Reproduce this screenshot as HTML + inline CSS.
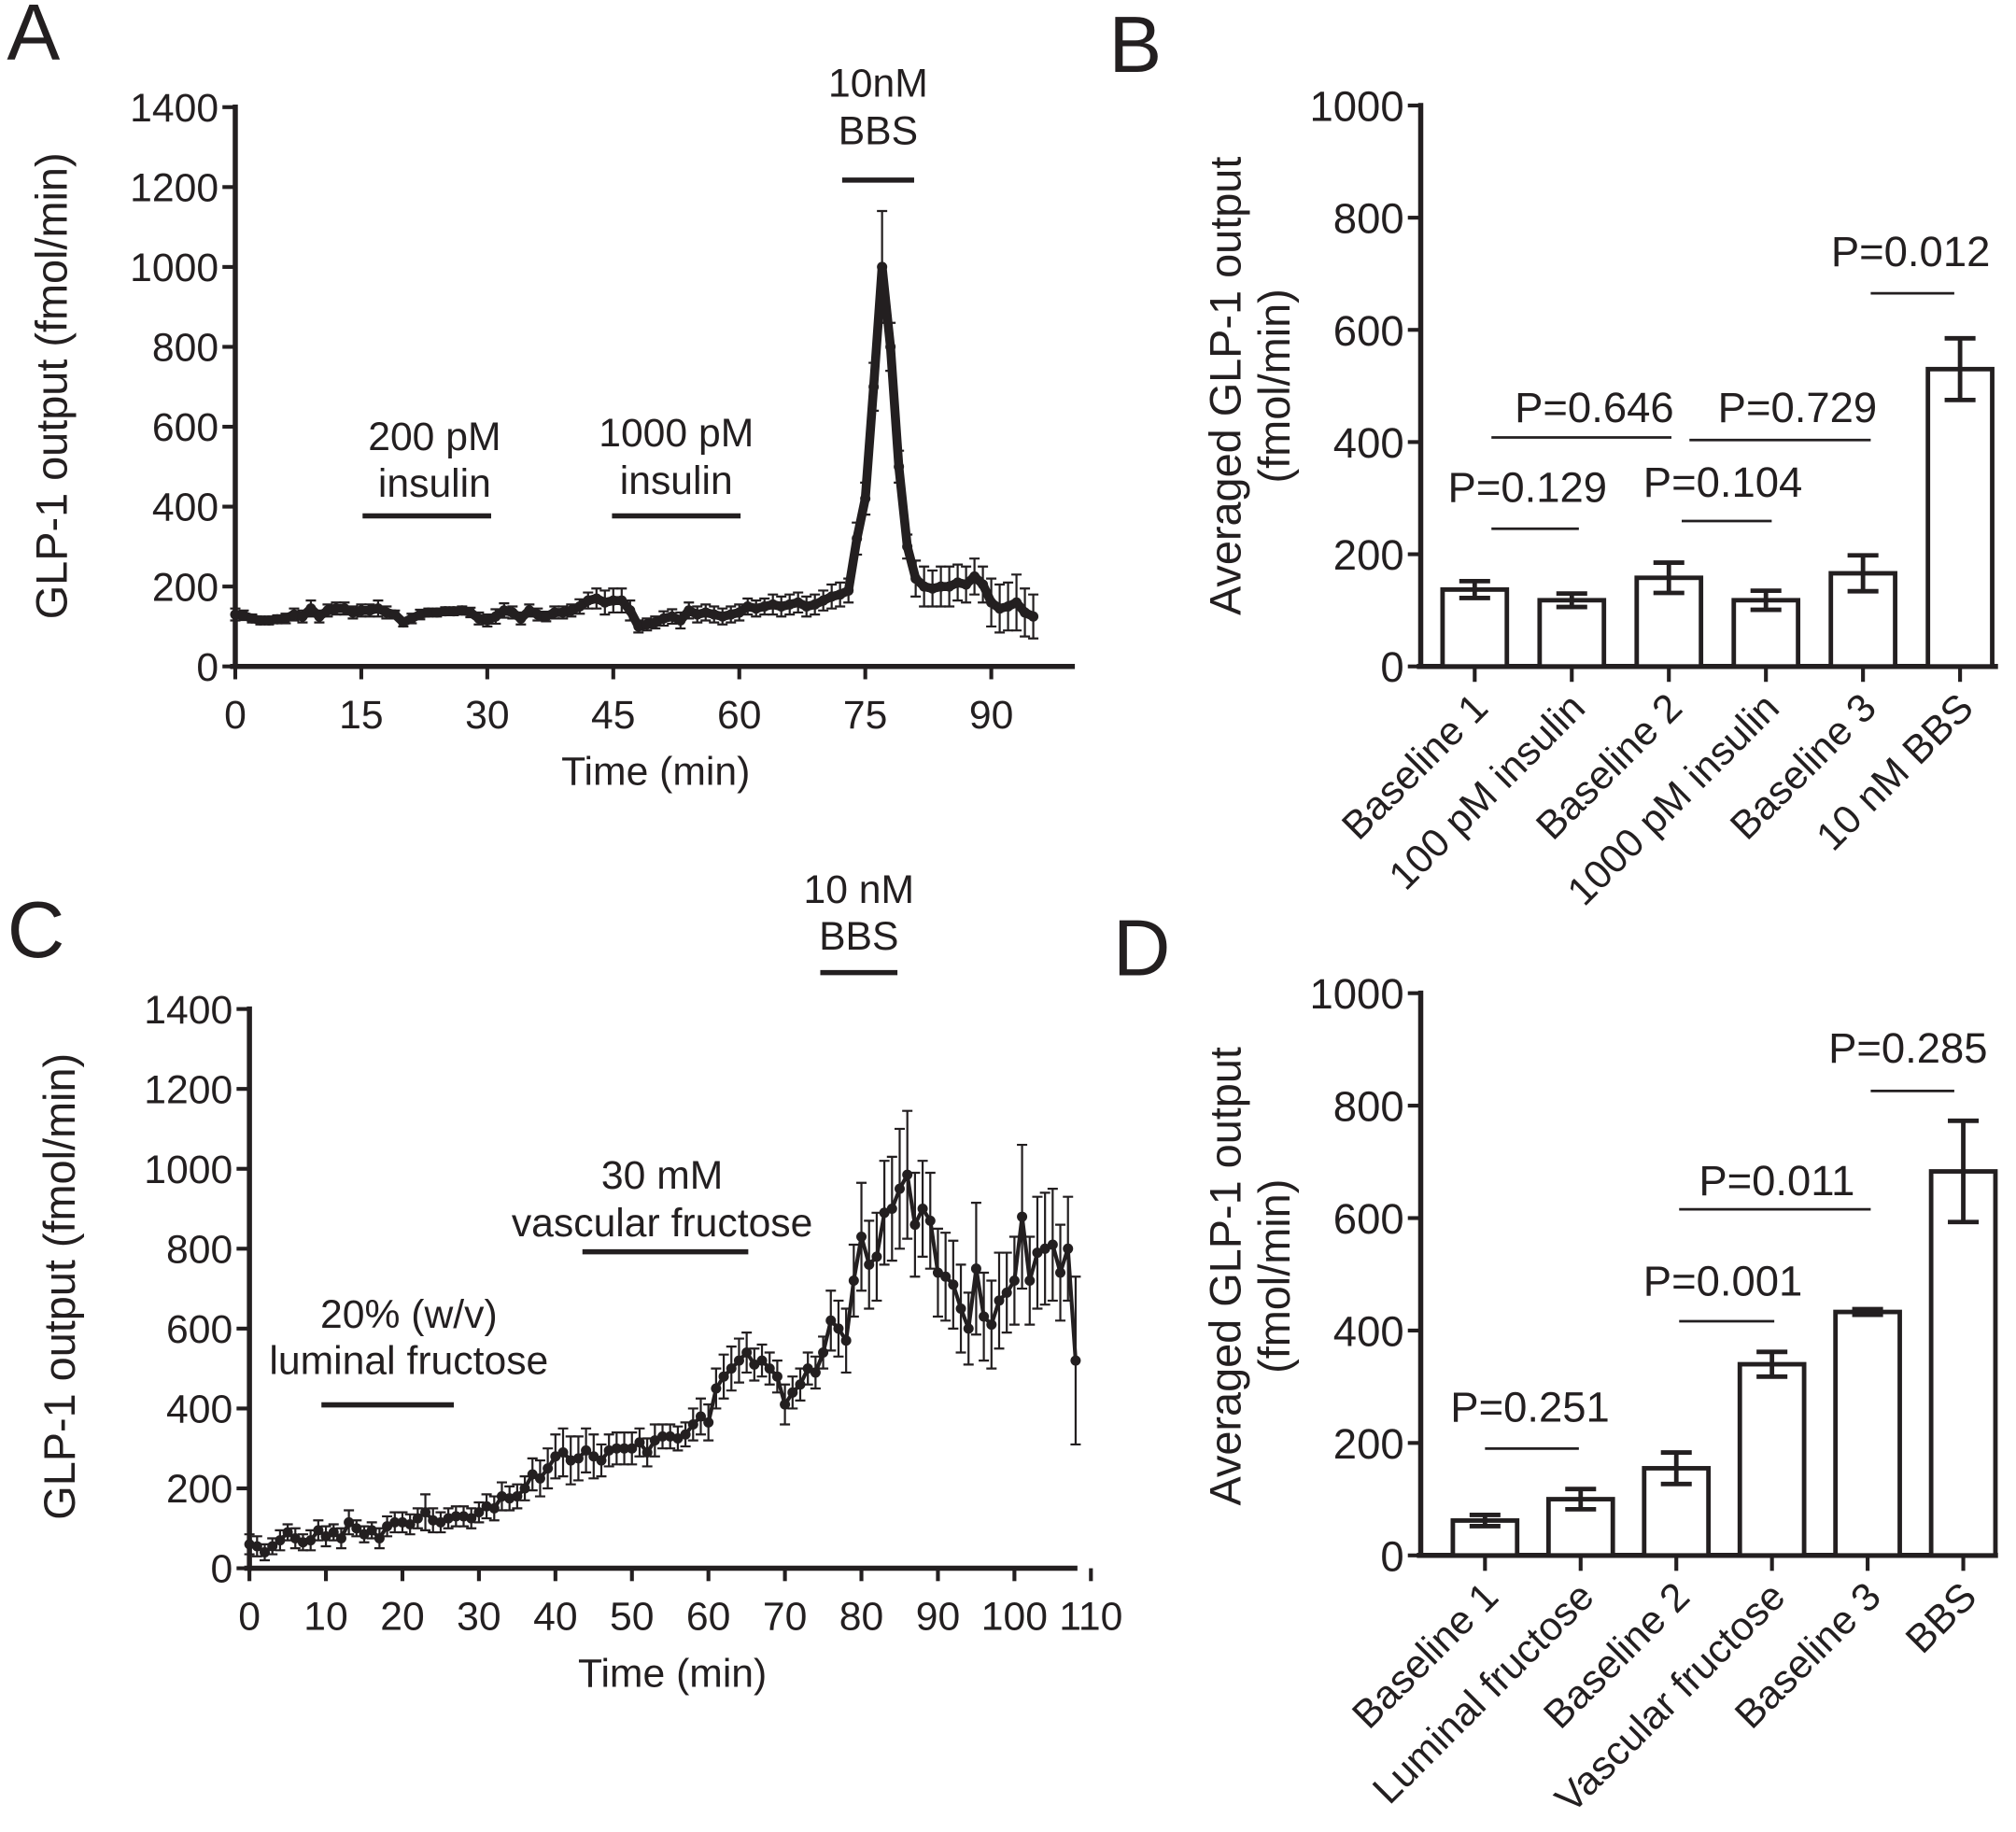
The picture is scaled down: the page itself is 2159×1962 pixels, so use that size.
<!DOCTYPE html>
<html><head><meta charset="utf-8"><style>
html,body{margin:0;padding:0;background:#fff;}
svg{display:block;}
text{fill:#231f20;}
.cn{font-family:"Liberation Sans Narrow","Liberation Sans",sans-serif;}
.sn{font-family:"Liberation Sans","DejaVu Sans",sans-serif;}
</style></head><body>
<svg id="fig" xmlns="http://www.w3.org/2000/svg" width="2159" height="1962" viewBox="0 0 1568 1424" preserveAspectRatio="none">
<g id="pA"></g>
<g id="pB"></g>
<g id="pC"></g>
<g id="pD"></g>
</svg>
<script>
// ---------- Panel A data ----------
const timeA = [];
for (let i = 0; i <= 95; i++) timeA.push(i);
const valuesA = [130,128,120,115,115,118,120,130,125,145,125,140,145,145,135,140,140,145,135,130,110,120,130,135,135,138,138,140,135,120,115,125,140,135,120,140,130,125,135,135,140,150,165,170,160,165,165,140,100,105,110,120,125,115,140,130,135,130,125,130,135,150,145,150,155,150,155,160,150,155,165,175,180,190,320,420,700,1000,800,500,300,220,200,195,200,200,210,205,225,205,160,145,150,160,135,125];
const errA = [15,12,10,10,10,10,12,15,15,20,15,15,15,15,15,15,15,20,15,10,10,12,12,10,10,10,10,10,12,15,15,18,18,15,15,15,15,12,15,15,15,18,20,25,30,30,30,25,15,15,15,18,18,20,20,20,20,20,20,20,20,20,20,20,25,25,25,25,25,25,25,30,30,30,40,40,60,140,60,40,30,45,50,45,50,50,45,45,45,45,60,60,60,70,60,55];
const xTicksA = [0,15,30,45,60,75,90];
const yTicksA = [0,200,400,600,800,1000,1200,1400];

// ---------- Panel B data ----------
const catsB = ["Baseline 1","100 pM insulin","Baseline 2","1000 pM insulin","Baseline 3","10 nM BBS"];
const valsB = [137,118,158,118,166,530];
const errsB = [15,12,27,17,32,55];
const yTicksB = [0,200,400,600,800,1000];

// ---------- Panel C data ----------
const timeC = [];
for (let i = 0; i <= 108; i++) timeC.push(i);
const valuesC = [60,55,40,55,70,90,75,65,70,95,80,90,75,115,100,85,95,75,105,115,115,110,125,140,120,115,125,130,130,125,140,155,150,180,175,180,200,235,225,250,280,290,270,275,295,280,270,295,300,300,300,315,290,320,330,330,325,335,360,380,365,450,480,500,520,540,510,520,500,480,410,440,460,500,490,540,620,600,570,720,830,760,780,890,900,950,985,860,900,870,740,730,710,650,600,750,630,610,670,690,720,880,720,790,800,810,740,800,520];
const errC = [25,25,20,20,25,20,25,20,25,25,25,20,25,30,20,20,20,25,25,25,25,25,25,45,30,25,25,25,25,25,25,30,30,35,30,30,30,40,45,50,55,60,60,55,55,55,40,40,40,40,40,35,35,40,30,30,30,30,40,45,45,50,55,55,55,50,40,40,40,40,50,40,40,40,40,40,75,70,80,90,135,110,110,130,130,150,160,130,120,120,110,110,110,110,90,165,110,110,120,100,110,180,110,140,140,140,120,130,210];
const xTicksC = [0,10,20,30,40,50,60,70,80,90,100,110];
const yTicksC = [0,200,400,600,800,1000,1200,1400];

// ---------- Panel D data ----------
const catsD = ["Baseline 1","Luminal fructose","Baseline 2","Vascular fructose","Baseline 3","BBS"];
const valsD = [62,100,155,340,433,683];
const errsD = [10,18,28,22,5,90];
const yTicksD = [0,200,400,600,800,1000];

const NS = "http://www.w3.org/2000/svg";
function el(parent, tag, attrs, txt) {
  const e = document.createElementNS(NS, tag);
  for (const k in attrs) e.setAttribute(k, attrs[k]);
  if (txt !== undefined) e.textContent = txt;
  parent.appendChild(e);
  return e;
}
const INK = "#231f20";

function label(g, x, y, t, size, cls, name, anchor) {
  const e = el(g, "text", {x: x, y: y, "font-size": size, "text-anchor": anchor || "middle", class: cls}, t);
  
  
  return e;
}
function line(g, x1, y1, x2, y2, w, name) {
  const e = el(g, "line", {x1: x1, y1: y1, x2: x2, y2: y2, stroke: INK, "stroke-width": w});
  
  
  return e;
}

function timeSeries(g, cfg) {
  const xs = v => cfg.x0 + (v - cfg.xmin) * cfg.xpx;
  const ys = v => cfg.y0 - v * cfg.ypx;
  line(g, cfg.x0 - 4, cfg.y0, cfg.xEnd, cfg.y0, 4, "x-axis");
  line(g, cfg.x0, cfg.y0 + 2, cfg.x0, ys(cfg.yTicks[cfg.yTicks.length - 1]) - 2, 4, "y-axis");
  cfg.yTicks.forEach(t => {
    line(g, cfg.x0 - 10, ys(t), cfg.x0, ys(t), 3, "y-tick");
    label(g, cfg.x0 - 13, ys(t) + 11, String(t), 31, "cn", "y-tick-label", "end");
  });
  cfg.xTicks.forEach(t => {
    line(g, xs(t), cfg.y0, xs(t), cfg.y0 + 10, 3, "x-tick");
    label(g, xs(t), cfg.y0 + 48, String(t), 31, "cn", "x-tick-label");
  });
  label(g, cfg.xTitleX, cfg.y0 + 92, "Time (min)", 31, "cn", "x-axis-title");
  const yt = label(g, 0, 0, "GLP-1 output (fmol/min)", 34, "sn", "y-axis-title");
  yt.setAttribute("transform", "translate(" + cfg.yTitleX + "," + cfg.yTitleY + ") rotate(-90)");
  cfg.t.forEach((tv, i) => {
    const x = xs(tv), v = cfg.v[i], e = cfg.e[i];
    const eb = el(g, "path", {d: "M" + x + " " + ys(v - e) + "V" + ys(v + e) + "M" + (x - 4) + " " + ys(v + e) + "h8M" + (x - 4) + " " + ys(v - e) + "h8", stroke: INK, "stroke-width": 1.6, fill: "none"});
    
    
  });
  const pts = cfg.t.map((tv, i) => xs(tv).toFixed(1) + "," + ys(cfg.v[i]).toFixed(1)).join(" ");
  const pl = el(g, "polyline", {points: pts, fill: "none", stroke: INK, "stroke-width": cfg.lw, "stroke-linejoin": "round"});
  
  
  cfg.t.forEach((tv, i) => {
    const c = el(g, "circle", {cx: xs(tv), cy: ys(cfg.v[i]), r: cfg.r, fill: INK});
    
    
  });
}

function barPanel(g, cfg) {
  const ys = v => cfg.y0 - v * cfg.ypx;
  const xs = i => cfg.c0 + i * cfg.step;
  line(g, cfg.x0 - 3, cfg.y0, cfg.xEnd, cfg.y0, 4, "x-axis");
  line(g, cfg.x0, cfg.y0 + 2, cfg.x0, ys(1000) - 2, 4, "y-axis");
  cfg.yTicks.forEach(t => {
    line(g, cfg.x0 - 10, ys(t), cfg.x0, ys(t), 3, "y-tick");
    label(g, cfg.x0 - 13, ys(t) + 12, String(t), 33, "sn", "y-tick-label", "end");
  });
  const t1 = label(g, 0, 0, "Averaged GLP-1 output", 34, "sn", "y-axis-title");
  t1.setAttribute("transform", "translate(" + (cfg.x0 - 140) + "," + cfg.yTitleY + ") rotate(-90)");
  const t2 = label(g, 0, 0, "(fmol/min)", 34, "sn", "y-axis-title-units");
  t2.setAttribute("transform", "translate(" + (cfg.x0 - 102) + "," + cfg.yTitleY + ") rotate(-90)");
  cfg.cats.forEach((c, i) => {
    const x = xs(i), v = cfg.vals[i], e = cfg.errs[i];
    const r = el(g, "rect", {x: x - 25, y: ys(v), width: 50, height: cfg.y0 - ys(v), fill: "#fff", stroke: INK, "stroke-width": 3.5});
    
    
    const eb = el(g, "path", {d: "M" + x + " " + ys(v - e) + "V" + ys(v + e) + "M" + (x - 12) + " " + ys(v + e) + "h24M" + (x - 12) + " " + ys(v - e) + "h24", stroke: INK, "stroke-width": 3.5, fill: "none"});
    
    
    line(g, x, cfg.y0, x, cfg.y0 + 12, 3, "x-tick");
    const tl = label(g, 0, 0, c, 31, "sn", "x-tick-label", "end");
    tl.setAttribute("transform", "translate(" + (x + 12) + "," + (cfg.y0 + 34) + ") rotate(-45)");
  });
  cfg.pvals.forEach(p => {
    line(g, p[0], p[2], p[1], p[2], 2, "significance-line");
    label(g, p[3], p[4], p[5], 33, "sn", "p-value-label");
  });
}

const gA = document.getElementById("pA");
label(gA, 26, 46, "A", 62, "sn", "panel-label-a");
timeSeries(gA, {x0: 183, y0: 518, xmin: 0, xpx: 98 / 15, ypx: 62.1 / 200, xEnd: 836, xTicks: xTicksA, yTicks: yTicksA, t: timeA, v: valuesA, e: errA, lw: 7, r: 4, xTitleX: 510, yTitleX: 52, yTitleY: 300});
line(gA, 282, 401, 382, 401, 4, "insulin-200-bar");
label(gA, 338, 350, "200 pM", 31, "cn", "annotation-200pm");
label(gA, 338, 386, "insulin", 31, "cn", "annotation-insulin");
line(gA, 476, 401, 576, 401, 4, "insulin-1000-bar");
label(gA, 526, 347, "1000 pM", 31, "cn", "annotation-1000pm");
label(gA, 526, 384, "insulin", 31, "cn", "annotation-insulin-2");
line(gA, 655, 140, 711, 140, 4, "bbs-bar");
label(gA, 683, 75, "10nM", 31, "cn", "annotation-10nm");
label(gA, 683, 112, "BBS", 31, "cn", "annotation-bbs");

const gB = document.getElementById("pB");
label(gB, 883, 56, "B", 62, "sn", "panel-label-b");
barPanel(gB, {x0: 1105, y0: 518, ypx: 436 / 1000, xEnd: 1554, c0: 1147, step: 75.5, yTicks: yTicksB, yTitleY: 300, cats: catsB, vals: valsB, errs: errsB,
  pvals: [[1160, 1228, 411, 1188, 390, "P=0.129"], [1160, 1300, 340, 1240, 328, "P=0.646"], [1308, 1378, 405, 1340, 386, "P=0.104"], [1314, 1455, 342, 1398, 328, "P=0.729"], [1455, 1520, 228, 1486, 207, "P=0.012"]]});

const gC = document.getElementById("pC");
label(gC, 28, 744, "C", 62, "sn", "panel-label-c");
timeSeries(gC, {x0: 194, y0: 1219, xmin: 0, xpx: 59.5 / 10, ypx: 62.1 / 200, xEnd: 838, xTicks: xTicksC, yTicks: yTicksC, t: timeC, v: valuesC, e: errC, lw: 3, r: 4, xTitleX: 523, yTitleX: 58, yTitleY: 1000});
line(gC, 250, 1092, 353, 1092, 4, "luminal-fructose-bar");
label(gC, 318, 1032, "20% (w/v)", 31, "cn", "annotation-20pct");
label(gC, 318, 1068, "luminal fructose", 31, "cn", "annotation-luminal");
line(gC, 453, 973, 582, 973, 4, "vascular-fructose-bar");
label(gC, 515, 924, "30 mM", 31, "cn", "annotation-30mm");
label(gC, 515, 961, "vascular fructose", 31, "cn", "annotation-vascular");
line(gC, 638, 756, 698, 756, 4, "bbs-bar-c");
label(gC, 668, 702, "10 nM", 31, "cn", "annotation-10nm-c");
label(gC, 668, 738, "BBS", 31, "cn", "annotation-bbs-c");

const gD = document.getElementById("pD");
label(gD, 888, 758, "D", 62, "sn", "panel-label-d");
barPanel(gD, {x0: 1105, y0: 1209, ypx: 437 / 1000, xEnd: 1554, c0: 1155, step: 74.4, yTicks: yTicksD, yTitleY: 992, cats: catsD, vals: valsD, errs: errsD,
  pvals: [[1155, 1228, 1126, 1190, 1105, "P=0.251"], [1306, 1380, 1027, 1340, 1007, "P=0.001"], [1306, 1455, 940, 1382, 929, "P=0.011"], [1455, 1520, 848, 1484, 826, "P=0.285"]]});
</script>
</body></html>
